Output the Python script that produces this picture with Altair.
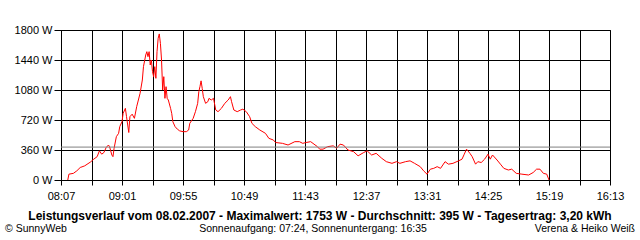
import altair as alt
import pandas as pd

# --- data -------------------------------------------------------------
times = [
    "08:13", "08:14", "08:18", "08:21", "08:24", "08:28", "08:33", "08:36", "08:39", "08:41",
    "08:43", "08:45", "08:47", "08:49", "08:50", "08:52", "08:53", "08:54", "08:56", "08:58",
    "08:59", "09:01", "09:02", "09:04", "09:05", "09:07", "09:08", "09:10", "09:12", "09:14",
    "09:17", "09:19", "09:20", "09:22", "09:23", "09:24", "09:25", "09:26", "09:27", "09:28",
    "09:29", "09:30", "09:31", "09:32", "09:33", "09:34", "09:35", "09:36", "09:37", "09:38",
    "09:39", "09:40", "09:41", "09:42", "09:44", "09:45", "09:46", "09:48", "09:50", "09:52",
    "09:55", "09:58", "10:00", "10:01", "10:04", "10:06", "10:08", "10:09", "10:10", "10:11",
    "10:12", "10:13", "10:15", "10:17", "10:18", "10:20", "10:22", "10:24", "10:26", "10:29",
    "10:32", "10:35", "10:37", "10:38", "10:40", "10:43", "10:46", "10:48", "10:51", "10:54",
    "10:56", "10:59", "11:03", "11:08", "11:11", "11:15", "11:17", "11:23", "11:28", "11:34",
    "11:38", "11:41", "11:44", "11:48", "11:54", "11:56", "11:59", "12:03", "12:08", "12:11",
    "12:14", "12:17", "12:21", "12:26", "12:30", "12:35", "12:38", "12:42", "12:46", "12:51",
    "12:55", "13:00", "13:04", "13:07", "13:12", "13:16", "13:20", "13:25", "13:28", "13:31",
    "13:34", "13:37", "13:40", "13:43", "13:47", "13:50", "13:54", "13:59", "14:02", "14:04",
    "14:06", "14:09", "14:11", "14:14", "14:16", "14:19", "14:22", "14:25", "14:27", "14:29",
    "14:33", "14:36", "14:39", "14:43", "14:46", "14:50", "14:55", "15:01", "15:05", "15:08",
    "15:11", "15:14", "15:17", "15:19",
]
watts = [
    0, 70, 80, 110, 150, 170, 215, 250, 280, 350,
    310, 330, 390, 420, 400, 300, 280, 380, 520, 560,
    640, 700, 800, 860, 760, 570, 760, 790, 740, 880,
    1040, 1200, 1360, 1500, 1540, 1480, 1540, 1380, 1440, 1300,
    1240, 1360, 1220, 1540, 1700, 1753, 1640, 1440, 1080, 1240,
    980, 1120, 980, 960, 860, 800, 700, 640, 610, 590,
    580, 580, 600, 680, 740, 820, 920, 1060, 1120, 1190,
    1100, 1000, 920, 940, 980, 960, 980, 840, 820, 860,
    920, 960, 1000, 940, 840, 820, 840, 850, 820, 760,
    680, 640, 600, 560, 500, 480, 450, 440, 420, 460,
    460, 440, 450, 460, 400, 370, 370, 400, 410, 380,
    430, 420, 360, 340, 290, 330, 350, 300, 320, 260,
    220, 200, 220, 200, 220, 230, 200, 160, 110, 70,
    130, 140, 160, 140, 220, 190, 200, 230, 250, 310,
    370, 320, 280, 190, 220, 210, 250, 310, 250, 300,
    240, 190, 140, 120, 130, 80, 70, 60, 90, 130,
    130, 80, 70, 0,
]
average_w = [395]
y_ticks = [0, 360, 720, 1080, 1440, 1800]
x_start, x_end, x_step = "08:07", "16:13", 27

title_text = ("Leistungsverlauf vom 08.02.2007 - Maximalwert: 1753 W - "
              "Durchschnitt: 395 W - Tagesertrag: 3,20 kWh")
footer_left = "\u00a9 SunnyWeb"
footer_mid = "Sonnenaufgang: 07:24, Sonnenuntergang: 16:35"
footer_right = "Verena & Heiko Wei\u00df"

# --- build ------------------------------------------------------------
def to_min(t):
    h, m = t.split(":")
    return int(h) * 60 + int(m)

df = pd.DataFrame({"t": [to_min(t) for t in times], "w": watts})
avg_df = pd.DataFrame({"w": average_w})
x0, x1 = to_min(x_start), to_min(x_end)
x_ticks = list(range(x0, x1 + 1, x_step))

FONT = "Liberation Sans"
W, H = 549, 150

label_expr = (f"(datum.value - {x0}) % 54 == 0 ? "
              "format(floor(datum.value / 60), '02d') + ':' + format(datum.value % 60, '02d') : ''")

y_scale = alt.Scale(domain=[0, 1800], nice=False)

x_enc = alt.X("t:Q", scale=alt.Scale(domain=[x0, x1], nice=False, zero=False),
              axis=alt.Axis(values=x_ticks, labelExpr=label_expr, title=None,
                            grid=True, gridColor="black", gridOpacity=1,
                            tickColor="black", tickSize=5, domainColor="black",
                            labelFont=FONT, labelFontSize=11, labelColor="black",
                            labelPadding=5, labelFlush=False, labelOverlap=False))
y_enc = alt.Y("w:Q", scale=y_scale,
              axis=alt.Axis(values=y_ticks, labelExpr="datum.value + ' W'", title=None,
                            grid=True, gridColor="black", gridOpacity=1,
                            tickColor="black", tickSize=7, domainColor="black",
                            labelFont=FONT, labelFontSize=11, labelColor="black",
                            labelPadding=2, labelOverlap=False, labelFlush=False))

line = alt.Chart(df).mark_line(color="#ff0000", strokeWidth=1, interpolate="linear").encode(
    x=x_enc, y=y_enc)

avg_rule = alt.Chart(avg_df).mark_rule(color="#808080", strokeWidth=1).encode(y=y_enc)

def text_layer(txt, x, y, align, bold=False, size=11):
    return alt.Chart(pd.DataFrame({"s": [txt]})).mark_text(
        align=align, baseline="middle", font=FONT, fontSize=size,
        fontWeight="bold" if bold else "normal", color="black"
    ).encode(text="s:N", x=alt.value(x), y=alt.value(y))

texts = (
    text_layer(title_text, 259, 186, "center", bold=True, size=12)
    + text_layer(footer_left, -56, 198.5, "left", size=10.5)
    + text_layer(footer_mid, 252, 198.5, "center", size=10.5)
    + text_layer(footer_right, 574, 198.5, "right", size=10.5)
)

chart = alt.layer(line, avg_rule, texts).properties(
    width=W, height=H,
    padding={"left": 61, "top": 30, "right": 30, "bottom": 60},
    autosize=alt.AutoSizeParams(type="none"),
    background="white",
).configure_view(stroke="black", strokeWidth=1)

chart.save("out.html", embed_options={"renderer": "svg", "actions": False})
